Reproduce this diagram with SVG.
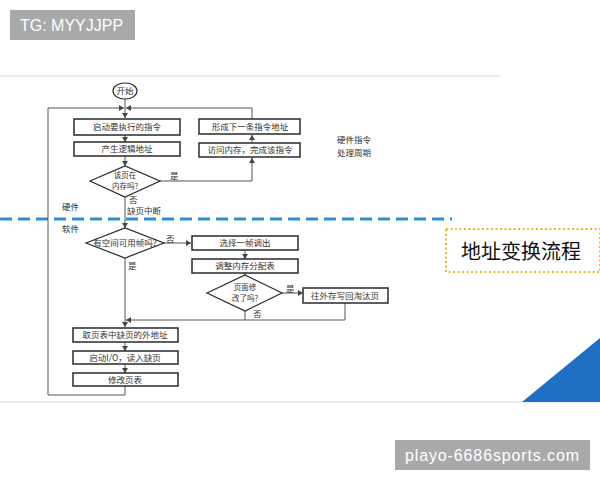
<svg xmlns="http://www.w3.org/2000/svg" width="600" height="480" viewBox="0 0 600 480">
<defs>
<style>
.bx{fill:#fff;stroke:#2a2a2a;stroke-width:1.5}
.dm{fill:#fff;stroke:#2a2a2a;stroke-width:1.2}
.ln{fill:none;stroke:#555;stroke-width:1}
.t{font-family:"Noto Sans CJK SC","Noto Sans CJK JP",sans-serif;font-size:8.5px;fill:#333;text-anchor:middle}
.d{font-family:"Noto Sans CJK SC","Noto Sans CJK JP",sans-serif;font-size:7.5px;fill:#333;text-anchor:middle}
.s{font-family:"Noto Sans CJK SC","Noto Sans CJK JP",sans-serif;font-size:8.5px;fill:#333}
.wm{font-family:"Liberation Sans","DejaVu Sans",sans-serif;font-size:16px;fill:#fff}
</style>
<marker id="ar" markerWidth="6" markerHeight="6" refX="5" refY="3" orient="auto" markerUnits="userSpaceOnUse">
<path d="M0,0 L5,3 L0,6 Z" fill="#444"/>
</marker>
</defs>
<rect width="600" height="480" fill="#fff"/>
<line x1="0" y1="76" x2="500" y2="76" stroke="#e4e4e4" stroke-width="1.5"/>
<line x1="0" y1="402" x2="600" y2="402" stroke="#e4e4e4" stroke-width="1.5"/>
<polygon points="522,402 600,338 600,402" fill="#1f6fc5"/>
<line x1="0" y1="219" x2="452" y2="219" stroke="#2c8ed8" stroke-width="3" stroke-dasharray="12,6"/>

<g id="connectors">
<path class="ln" d="M125,99 V118" marker-end="url(#ar)"/>
<path class="ln" d="M48,108 H124" marker-end="url(#ar)"/>
<path class="ln" d="M252,119 V108 H126" marker-end="url(#ar)"/>
<path class="ln" d="M125,135 V142" marker-end="url(#ar)"/>
<path class="ln" d="M125,156 V166" marker-end="url(#ar)"/>
<path class="ln" d="M160,181 H252 V158" marker-end="url(#ar)"/>
<path class="ln" d="M252,143 V135" marker-end="url(#ar)"/>
<path class="ln" d="M125,197 V228" marker-end="url(#ar)"/>
<path class="ln" d="M164,243 H191" marker-end="url(#ar)"/>
<path class="ln" d="M245,250 V259" marker-end="url(#ar)"/>
<path class="ln" d="M245,273 V275" marker-end="url(#ar)"/>
<path class="ln" d="M282,293 H303" marker-end="url(#ar)"/>
<path class="ln" d="M345,303 V320 H126" marker-end="url(#ar)"/>
<path class="ln" d="M245,311 V320"/>
<path class="ln" d="M125,258 V327" marker-end="url(#ar)"/>
<path class="ln" d="M125,342 V351" marker-end="url(#ar)"/>
<path class="ln" d="M125,364 V373" marker-end="url(#ar)"/>
<path class="ln" d="M125,386 V395 H48 V108"/>
</g>

<g id="start"><ellipse cx="125" cy="91" rx="12" ry="8" class="dm"/><text class="t" x="125" y="94">开始</text></g>
<g id="n1"><rect class="bx" x="74" y="119" width="106" height="16"/><text class="t" x="127" y="130">启动要执行的指令</text></g>
<g id="n2"><rect class="bx" x="74" y="142" width="106" height="14"/><text class="t" x="127" y="152">产生逻辑地址</text></g>
<g id="d1"><polygon class="dm" points="90,181 125,166 160,181 125,197"/><text class="d" x="125" y="178">该页在</text><text class="d" x="125" y="189">内存吗?</text></g>
<g id="n3"><rect class="bx" x="199" y="119" width="101" height="15"/><text class="t" x="250" y="130">形成下一条指令地址</text></g>
<g id="n4"><rect class="bx" x="199" y="143" width="101" height="14"/><text class="t" x="250" y="153">访问内存，完成该指令</text></g>
<g id="d2"><polygon class="dm" points="86,243 125,228 164,243 125,258"/><text class="t" x="125" y="246">有空间可用帧吗?</text></g>
<g id="n5"><rect class="bx" x="192" y="236" width="106" height="14"/><text class="t" x="245" y="246">选择一帧调出</text></g>
<g id="n6"><rect class="bx" x="192" y="259" width="106" height="14"/><text class="t" x="245" y="269">调整内存分配表</text></g>
<g id="d3"><polygon class="dm" points="207,293 245,275 282,293 245,311"/><text class="d" x="245" y="290">页面修</text><text class="d" x="245" y="301">改了吗?</text></g>
<g id="n7"><rect class="bx" x="303" y="288" width="85" height="15"/><text class="t" x="345" y="299">往外存写回淘汰页</text></g>
<g id="n8"><rect class="bx" x="73" y="328" width="105" height="14"/><text class="t" x="125" y="338">取页表中缺页的外地址</text></g>
<g id="n9"><rect class="bx" x="73" y="351" width="105" height="13"/><text class="t" x="125" y="361">启动I/O，读入缺页</text></g>
<g id="n10"><rect class="bx" x="73" y="373" width="105" height="13"/><text class="t" x="125" y="383">修改页表</text></g>

<g id="labels">
<text class="s" x="170" y="179">是</text>
<text class="s" x="129" y="203">否</text>
<text class="s" x="127" y="214">缺页中断</text>
<text class="s" x="62" y="210">硬件</text>
<text class="s" x="62" y="232">软件</text>
<text class="s" x="166" y="242">否</text>
<text class="s" x="128" y="269">是</text>
<text class="s" x="286" y="292">是</text>
<text class="s" x="253" y="317">否</text>
<text class="s" x="337" y="143">硬件指令</text>
<text class="s" x="337" y="156">处理周期</text>
</g>

<g id="title">
<rect x="446" y="229" width="154" height="43" fill="none" stroke="#e8b820" stroke-width="2" stroke-dasharray="2,2.5"/>
<text x="461" y="259" font-family="Noto Sans CJK SC,sans-serif" font-size="20" fill="#111">地址变换流程</text>
</g>

<g id="wm1"><rect x="10" y="10" width="125" height="30" fill="#a9a9a9"/><text class="wm" x="20" y="31">TG: MYYJJPP</text></g>
<g id="wm2"><rect x="395" y="440" width="195" height="30" fill="#a9a9a9"/><text class="wm" x="405" y="461" font-size="17" textLength="174">playo-6686sports.com</text></g>
</svg>
